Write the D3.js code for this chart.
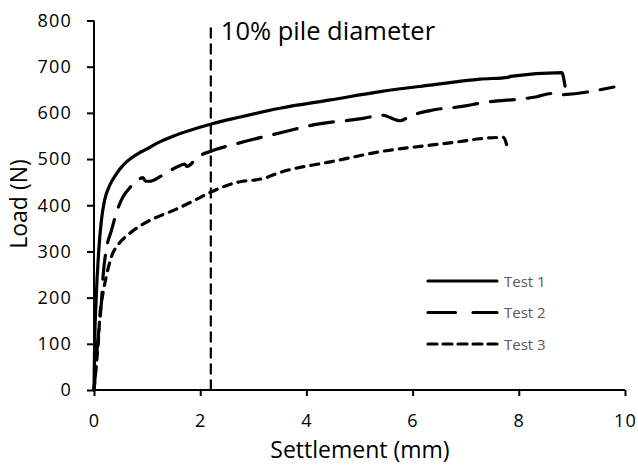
<!DOCTYPE html>
<html>
<head>
<meta charset="utf-8">
<script src="https://cdn.jsdelivr.net/npm/d3@7"></script>
<style>
  body { margin: 0; background: #fff; }
  text { font-family: "Open Sans", "Noto Sans", sans-serif; }
</style>
</head>
<body>
<svg width="638" height="465"></svg>
<script>
// settlement (mm), load (N)
var test1 = [[0,0],[0.01,87],[0.04,195],[0.09,303],[0.14,368],[0.2,411],[0.3,444],[0.41,466],
  [0.55,487],[0.7,502],[0.83,512],[1.0,522],[1.2,535],[1.5,550],[1.8,562],[2.21,576],
  [2.71,590],[3.5,610],[4.45,628],[5.39,646],[6.33,660],[7.27,673],[7.8,677],[7.84,679],
  [8.81,687],[8.87,658]];
var test2 = [[0,0],[0.03,40],[0.06,90],[0.1,140],[0.14,190],[0.17,245],[0.23,303],[0.33,346],
  [0.42,383],[0.55,419],[0.64,433],[0.83,455],[0.92,460],[0.97,452],[1.05,452],[1.26,463],
  [1.58,484],[1.71,489],[1.75,484],[1.96,505],[2.2,517],[2.71,534],[3.59,559],[4.13,574],
  [5.07,588],[5.42,595],[5.77,583],[5.95,593],[6.33,605],[7.0,615],[7.27,621],[8.34,635],
  [8.62,642],[8.69,639],[9.79,656]];
var test3 = [[0,0],[0.04,51],[0.08,101],[0.11,159],[0.17,210],[0.23,245],[0.33,289],[0.45,314],
  [0.64,336],[0.89,357],[1.14,372],[1.52,390],[1.9,411],[2.21,429],[2.75,451],[3.05,455],
  [3.19,458],[3.5,471],[4.26,490],[4.45,494],[5.39,516],[6.33,530],[6.9,538],[7.27,544],
  [7.71,547],[7.78,527]];
var seriesNames = ["Test 1", "Test 2", "Test 3"];
var xTicks = [0, 2, 4, 6, 8, 10];
var yTicks = [0, 100, 200, 300, 400, 500, 600, 700, 800];
var markerX = 2.2, markerTop = 785;

var svg = d3.select("svg"),
    mLeft = 94, mRight = 625, mTop = 20.5, mBottom = 390;

var x = d3.scaleLinear().domain([0, 10]).range([mLeft, mRight]);
var y = d3.scaleLinear().domain([0, 800]).range([mBottom, mTop]);

// axes
var xAxis = svg.append("g")
    .attr("transform", "translate(0," + mBottom + ")")
    .call(d3.axisBottom(x).tickValues(xTicks).tickSize(6).tickPadding(18).tickFormat(d3.format("d")));
var yAxis = svg.append("g")
    .attr("transform", "translate(" + mLeft + ",0)")
    .call(d3.axisLeft(y).tickValues(yTicks).tickSize(7).tickPadding(15));
[xAxis, yAxis].forEach(function(a) {
  a.select(".domain").attr("stroke", "#000").attr("stroke-width", 2);
  a.selectAll(".tick line").attr("stroke", "#000").attr("stroke-width", 2);
  a.selectAll(".tick text").attr("fill", "#000")
      .style("font-size", "18px").style("letter-spacing", "1.2px")
      .style("font-family", "'Open Sans', sans-serif");
});
xAxis.select(".domain").attr("d", "M" + mLeft + ",0H" + mRight);
yAxis.select(".domain").attr("d", "M0," + mTop + "V" + mBottom);

// axis titles
svg.append("text")
    .attr("x", 360).attr("y", 458)
    .attr("text-anchor", "middle")
    .style("font-size", "23px")
    .text("Settlement (mm)");
svg.append("text")
    .attr("transform", "translate(27,204) rotate(-90)")
    .attr("text-anchor", "middle")
    .style("font-size", "23px")
    .text("Load (N)");

// 10% pile diameter marker
svg.append("line")
    .attr("x1", x(markerX)).attr("x2", x(markerX))
    .attr("y1", y(markerTop)).attr("y2", mBottom)
    .attr("stroke", "#000").attr("stroke-width", 2.2)
    .attr("stroke-dasharray", "11,5");
svg.append("text")
    .attr("x", x(markerX) + 10).attr("y", 40)
    .style("font-size", "25.5px")
    .text("10% pile diameter");

// curves
var line = d3.line()
    .x(function(d) { return x(d[0]); })
    .y(function(d) { return y(d[1]); })
    .curve(d3.curveMonotoneX);
var styles = [null, "24,13", "8,7"];
var data = [test1, test2, test3];

data.forEach(function(s, i) {
  svg.append("path")
      .datum(s)
      .attr("d", line)
      .attr("fill", "none")
      .attr("stroke", "#000")
      .attr("stroke-width", 3.2)
      .attr("stroke-linejoin", "round")
      .attr("stroke-linecap", "round")
      .attr("stroke-dasharray", styles[i]);
});

// legend
var legendDash = [null, "27.5,17.5", "9,6"];
var legend = svg.append("g");
seriesNames.forEach(function(name, i) {
  var ly = 281 + i * 31.5;
  legend.append("line")
      .attr("x1", 428).attr("x2", 497)
      .attr("y1", ly).attr("y2", ly)
      .attr("stroke", "#000").attr("stroke-width", 3.2)
      .attr("stroke-linecap", "round")
      .attr("stroke-dasharray", legendDash[i]);
  legend.append("text")
      .attr("x", 504).attr("y", ly + 5.5)
      .attr("fill", "#595959")
      .style("font-size", "15px")
      .text(name);
});
</script>
</body>
</html>
